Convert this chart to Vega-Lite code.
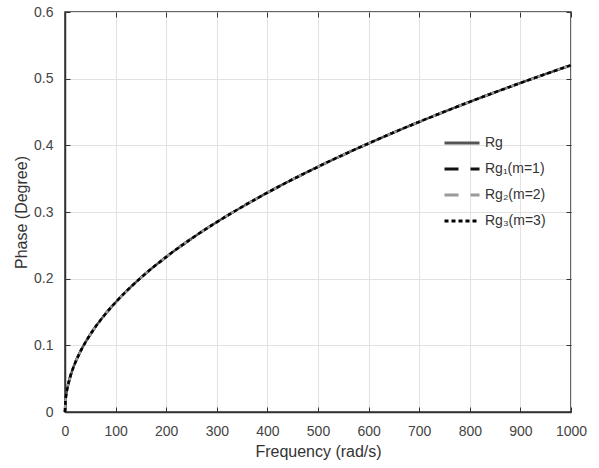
{
  "$schema": "https://vega.github.io/schema/vega-lite/v6.json",
  "width": 506,
  "height": 400,
  "autosize": {"type": "none"},
  "padding": {"left": 65, "top": 12, "right": 28, "bottom": 56},
  "background": "white",
  "config": {
    "font": "Liberation Sans",
    "view": {"stroke": "#333333", "strokeWidth": 1.5}
  },
  "data": {
    "values": [
      {"x": 0, "Rg": 0, "Rg1": 0, "Rg2": 0, "Rg3": 0},
      {"x": 1, "Rg": 0.0165, "Rg1": 0.0165, "Rg2": 0.0165, "Rg3": 0.0165},
      {"x": 2, "Rg": 0.0233, "Rg1": 0.0233, "Rg2": 0.0233, "Rg3": 0.0233},
      {"x": 5, "Rg": 0.0368, "Rg1": 0.0368, "Rg2": 0.0368, "Rg3": 0.0368},
      {"x": 10, "Rg": 0.052, "Rg1": 0.052, "Rg2": 0.052, "Rg3": 0.052},
      {"x": 20, "Rg": 0.0736, "Rg1": 0.0736, "Rg2": 0.0736, "Rg3": 0.0736},
      {"x": 30, "Rg": 0.0901, "Rg1": 0.0901, "Rg2": 0.0901, "Rg3": 0.0901},
      {"x": 50, "Rg": 0.1163, "Rg1": 0.1163, "Rg2": 0.1163, "Rg3": 0.1163},
      {"x": 75, "Rg": 0.1425, "Rg1": 0.1425, "Rg2": 0.1425, "Rg3": 0.1425},
      {"x": 100, "Rg": 0.1645, "Rg1": 0.1645, "Rg2": 0.1645, "Rg3": 0.1645},
      {"x": 150, "Rg": 0.2015, "Rg1": 0.2015, "Rg2": 0.2015, "Rg3": 0.2015},
      {"x": 200, "Rg": 0.2326, "Rg1": 0.2326, "Rg2": 0.2326, "Rg3": 0.2326},
      {"x": 250, "Rg": 0.2601, "Rg1": 0.2601, "Rg2": 0.2601, "Rg3": 0.2601},
      {"x": 300, "Rg": 0.2849, "Rg1": 0.2849, "Rg2": 0.2849, "Rg3": 0.2849},
      {"x": 350, "Rg": 0.3077, "Rg1": 0.3077, "Rg2": 0.3077, "Rg3": 0.3077},
      {"x": 400, "Rg": 0.329, "Rg1": 0.329, "Rg2": 0.329, "Rg3": 0.329},
      {"x": 450, "Rg": 0.349, "Rg1": 0.349, "Rg2": 0.349, "Rg3": 0.349},
      {"x": 500, "Rg": 0.3678, "Rg1": 0.3678, "Rg2": 0.3678, "Rg3": 0.3678},
      {"x": 550, "Rg": 0.3858, "Rg1": 0.3858, "Rg2": 0.3858, "Rg3": 0.3858},
      {"x": 600, "Rg": 0.4029, "Rg1": 0.4029, "Rg2": 0.4029, "Rg3": 0.4029},
      {"x": 650, "Rg": 0.4194, "Rg1": 0.4194, "Rg2": 0.4194, "Rg3": 0.4194},
      {"x": 700, "Rg": 0.4352, "Rg1": 0.4352, "Rg2": 0.4352, "Rg3": 0.4352},
      {"x": 750, "Rg": 0.4505, "Rg1": 0.4505, "Rg2": 0.4505, "Rg3": 0.4505},
      {"x": 800, "Rg": 0.4653, "Rg1": 0.4653, "Rg2": 0.4653, "Rg3": 0.4653},
      {"x": 850, "Rg": 0.4796, "Rg1": 0.4796, "Rg2": 0.4796, "Rg3": 0.4796},
      {"x": 900, "Rg": 0.4935, "Rg1": 0.4935, "Rg2": 0.4935, "Rg3": 0.4935},
      {"x": 950, "Rg": 0.507, "Rg1": 0.507, "Rg2": 0.507, "Rg3": 0.507},
      {"x": 1000, "Rg": 0.5202, "Rg1": 0.5202, "Rg2": 0.5202, "Rg3": 0.5202}
    ]
  },
  "transform": [{"fold": ["Rg", "Rg1", "Rg2", "Rg3"], "as": ["series", "y"]}],
  "resolve": {"axis": {"x": "independent", "y": "independent"}},
  "layer": [
    {
      "mark": {"type": "line", "strokeWidth": 2.5, "strokeCap": "butt", "interpolate": "monotone"},
      "encoding": {
        "x": {
          "field": "x", "type": "quantitative",
          "scale": {"domain": [0, 1000], "nice": false},
          "axis": {
            "values": [0, 100, 200, 300, 400, 500, 600, 700, 800, 900, 1000],
            "format": "d",
            "title": "Frequency (rad/s)",
            "titleFontSize": 16, "titleFontWeight": "normal", "titleColor": "#333333",
            "titlePadding": 5,
            "labelFontSize": 14, "labelColor": "#444444", "labelPadding": 17,
            "tickSize": -5, "tickColor": "#333333", "domainColor": "#333333", "domainWidth": 1.5,
            "grid": true, "gridColor": "#e2e2e2", "labelFlush": false
          }
        },
        "y": {
          "field": "y", "type": "quantitative",
          "scale": {"domain": [0, 0.6], "nice": false},
          "axis": {
            "values": [0, 0.1, 0.2, 0.3, 0.4, 0.5, 0.6],
            "labelExpr": "datum.value == 0 ? '0' : format(datum.value, '.1f')",
            "title": "Phase (Degree)",
            "titleFontSize": 16, "titleFontWeight": "normal", "titleColor": "#333333",
            "titlePadding": 4,
            "labelFontSize": 14, "labelColor": "#444444", "labelPadding": 17,
            "tickSize": -5, "tickColor": "#333333", "domainColor": "#333333", "domainWidth": 1.5,
            "grid": true, "gridColor": "#e2e2e2", "labelFlush": false
          }
        },
        "color": {
          "field": "series", "type": "nominal",
          "scale": {"domain": ["Rg", "Rg1", "Rg2", "Rg3"], "range": ["#555555", "#111111", "#9a9a9a", "#000000"]},
          "legend": {
            "orient": "none", "legendX": 378, "legendY": 112,
            "title": null, "symbolType": "stroke", "symbolSize": 1225, "symbolStrokeWidth": 3,
            "labelFontSize": 14, "labelColor": "#333333", "labelOffset": 4, "rowPadding": -1,
            "labelExpr": "datum.label == 'Rg' ? 'Rg' : datum.label == 'Rg1' ? 'Rg₁(m=1)' : datum.label == 'Rg2' ? 'Rg₂(m=2)' : 'Rg₃(m=3)'"
          }
        },
        "strokeDash": {
          "field": "series", "type": "nominal",
          "scale": {"domain": ["Rg", "Rg1", "Rg2", "Rg3"], "range": [[1, 0], [14, 12], [14, 12], [4, 3]]},
          "legend": {
            "orient": "none", "legendX": 378, "legendY": 112,
            "title": null, "symbolType": "stroke", "symbolSize": 1225, "symbolStrokeWidth": 3,
            "labelFontSize": 14, "labelColor": "#333333", "labelOffset": 4, "rowPadding": -1,
            "labelExpr": "datum.label == 'Rg' ? 'Rg' : datum.label == 'Rg1' ? 'Rg₁(m=1)' : datum.label == 'Rg2' ? 'Rg₂(m=2)' : 'Rg₃(m=3)'"
          }
        }
      }
    },
    {
      "mark": {"type": "line", "opacity": 0},
      "encoding": {
        "x": {
          "field": "x", "type": "quantitative",
          "axis": {
            "orient": "top", "values": [0, 100, 200, 300, 400, 500, 600, 700, 800, 900, 1000],
            "labels": false, "title": null, "grid": false, "domain": false,
            "tickSize": -5, "tickColor": "#333333"
          }
        },
        "y": {
          "field": "y", "type": "quantitative",
          "axis": {
            "orient": "right", "values": [0, 0.1, 0.2, 0.3, 0.4, 0.5, 0.6],
            "labels": false, "title": null, "grid": false, "domain": false,
            "tickSize": -5, "tickColor": "#333333"
          }
        }
      }
    }
  ]
}
